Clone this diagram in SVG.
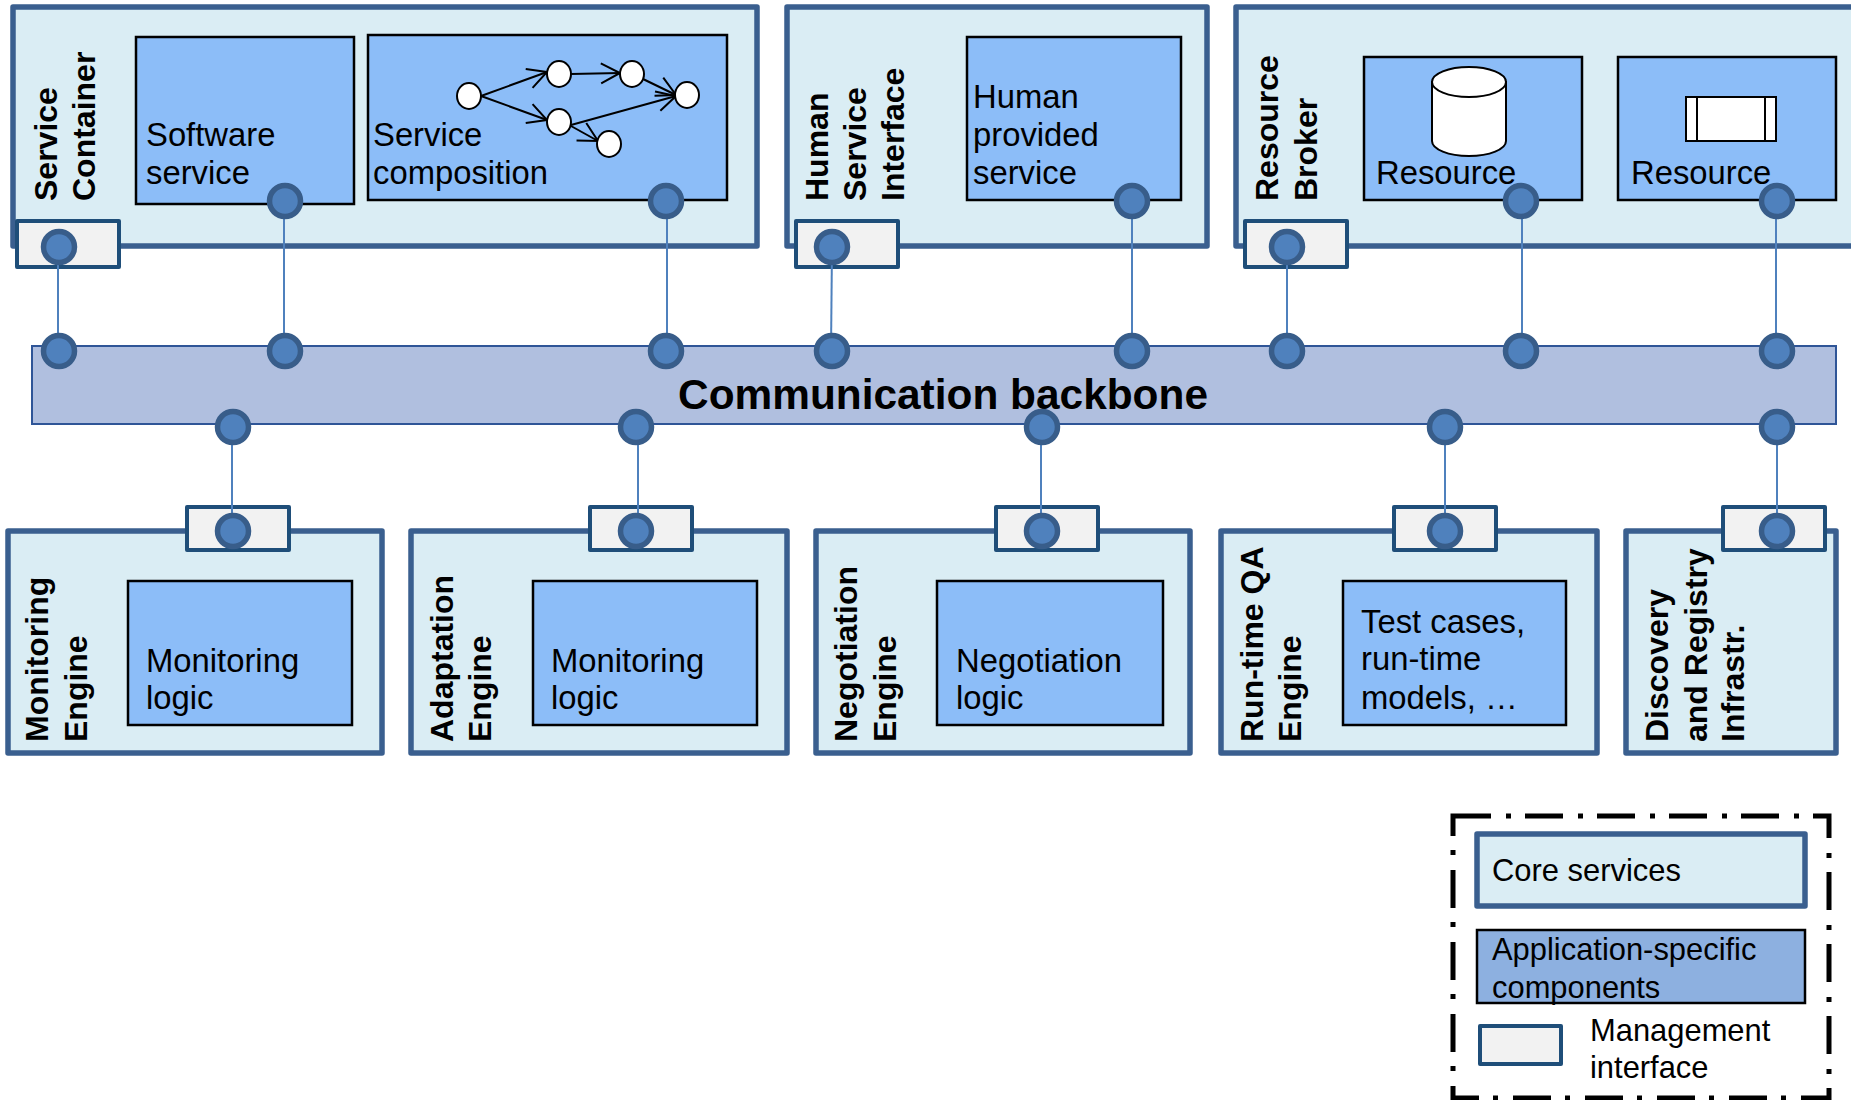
<svg xmlns="http://www.w3.org/2000/svg" width="1851" height="1100" viewBox="0 0 1851 1100">
<style>
text{font-family:"Liberation Sans",Arial,sans-serif;fill:#000}
.core{fill:#daedf4;stroke:#3a5f8f;stroke-width:5.5;stroke-linejoin:round}
.app{fill:#8cbdf8;stroke:#000;stroke-width:2.5}
.mgmt{fill:#f2f2f2;stroke:#1f4e79;stroke-width:4;stroke-linejoin:round}
.port{fill:#4f81bd;stroke:#385d8a;stroke-width:5.5}
.t{font-size:32.8px}
.h{font-size:32px;font-weight:bold}
.l{font-size:30.9px}
.w{fill:#fff;stroke:#000;stroke-width:2}
.e{fill:none;stroke:#000;stroke-width:2;marker-end:url(#open)}
.c{stroke:#4f81bd;stroke-width:2;fill:none}
</style>
<defs>
<marker id="open" markerUnits="userSpaceOnUse" markerWidth="28" markerHeight="28" refX="22" refY="14" orient="auto">
<path d="M3 4 L22 14 L3 24" fill="none" stroke="#000" stroke-width="2"/>
</marker>
</defs>
<g id="service-container">
<rect class="core" x="13" y="7" width="744" height="239"/>
<rect class="app" x="136" y="37" width="218" height="167"/>
<text class="t" x="146" y="146">Software</text><text class="t" x="146" y="184">service</text>
<rect class="app" x="368" y="35" width="359" height="165"/>
<text class="t" x="373" y="146">Service</text><text class="t" x="373" y="184">composition</text>
<line class="e" x1="481" y1="96" x2="547" y2="72"/>
<line class="e" x1="481" y1="96" x2="547" y2="120"/>
<line class="e" x1="571" y1="74" x2="620" y2="73"/>
<line class="e" x1="643" y1="79" x2="676" y2="95"/>
<line class="e" x1="571" y1="125" x2="676" y2="96"/>
<line class="e" x1="571" y1="126" x2="598" y2="141"/>
<ellipse class="w" cx="469" cy="96" rx="12" ry="13"/>
<ellipse class="w" cx="559" cy="74" rx="12" ry="13"/>
<ellipse class="w" cx="632" cy="74" rx="12" ry="13"/>
<ellipse class="w" cx="687" cy="95" rx="12" ry="13"/>
<ellipse class="w" cx="559" cy="122" rx="12" ry="13"/>
<ellipse class="w" cx="609" cy="144" rx="12" ry="13"/>
<rect class="mgmt" x="17" y="221" width="102" height="46"/>
<text class="h" transform="translate(57 201) rotate(-90)">Service</text>
<text class="h" transform="translate(95 201) rotate(-90)">Container</text>
</g>
<g id="human-service-interface">
<rect class="core" x="787" y="7" width="420" height="239"/>
<rect class="app" x="967" y="37" width="214" height="163"/>
<text class="t" x="973" y="108">Human</text><text class="t" x="973" y="146">provided</text><text class="t" x="973" y="184">service</text>
<rect class="mgmt" x="796" y="221" width="102" height="46"/>
<text class="h" transform="translate(828 201) rotate(-90)">Human</text>
<text class="h" transform="translate(866 201) rotate(-90)">Service</text>
<text class="h" transform="translate(904 201) rotate(-90)">Interface</text>
</g>
<g id="resource-broker">
<rect class="core" x="1236" y="7" width="630" height="239"/>
<rect class="app" x="1364" y="57" width="218" height="143"/>
<path class="w" d="M1432 82 V141 A37 15 0 0 0 1506 141 V82 Z"/>
<ellipse class="w" cx="1469" cy="82" rx="37" ry="15"/>
<text class="t" x="1376" y="184">Resource</text>
<rect class="app" x="1618" y="57" width="218" height="143"/>
<rect class="w" x="1686" y="97" width="90" height="44"/>
<line class="w" x1="1697" y1="97" x2="1697" y2="141"/><line class="w" x1="1765" y1="97" x2="1765" y2="141"/>
<text class="t" x="1631" y="184">Resource</text>
<rect class="mgmt" x="1245" y="221" width="102" height="46"/>
<text class="h" transform="translate(1278 201) rotate(-90)">Resource</text>
<text class="h" transform="translate(1317 201) rotate(-90)">Broker</text>
</g>
<g id="communication-backbone">
<rect x="32" y="346" width="1804" height="78" fill="#b0bfdf" stroke="#2f5597" stroke-width="2"/>
<text x="943" y="409" font-size="42.4" font-weight="bold" text-anchor="middle">Communication backbone</text>
</g>
<g id="monitoring-engine">
<rect class="core" x="8" y="531" width="374" height="222"/>
<rect class="app" x="128" y="581" width="224" height="144"/>
<text class="t" x="146" y="672">Monitoring</text><text class="t" x="146" y="709">logic</text>
<rect class="mgmt" x="187" y="507" width="102" height="43"/>
<text class="h" transform="translate(48 742) rotate(-90)">Monitoring</text>
<text class="h" transform="translate(87 742) rotate(-90)">Engine</text>
</g>
<g id="adaptation-engine">
<rect class="core" x="411" y="531" width="376" height="222"/>
<rect class="app" x="533" y="581" width="224" height="144"/>
<text class="t" x="551" y="672">Monitoring</text><text class="t" x="551" y="709">logic</text>
<rect class="mgmt" x="590" y="507" width="102" height="43"/>
<text class="h" transform="translate(453 742) rotate(-90)">Adaptation</text>
<text class="h" transform="translate(491 742) rotate(-90)">Engine</text>
</g>
<g id="negotiation-engine">
<rect class="core" x="816" y="531" width="374" height="222"/>
<rect class="app" x="937" y="581" width="226" height="144"/>
<text class="t" x="956" y="672">Negotiation</text><text class="t" x="956" y="709">logic</text>
<rect class="mgmt" x="996" y="507" width="102" height="43"/>
<text class="h" transform="translate(857 742) rotate(-90)">Negotiation</text>
<text class="h" transform="translate(896 742) rotate(-90)">Engine</text>
</g>
<g id="runtime-qa-engine">
<rect class="core" x="1221" y="531" width="376" height="222"/>
<rect class="app" x="1343" y="581" width="223" height="144"/>
<text class="t" x="1361" y="633">Test cases,</text><text class="t" x="1361" y="670">run-time</text><text class="t" x="1361" y="709">models, …</text>
<rect class="mgmt" x="1394" y="507" width="102" height="43"/>
<text class="h" transform="translate(1263 742) rotate(-90)">Run-time QA</text>
<text class="h" transform="translate(1301 742) rotate(-90)">Engine</text>
</g>
<g id="discovery-registry">
<rect class="core" x="1626" y="531" width="210" height="222"/>
<rect class="mgmt" x="1723" y="507" width="102" height="43"/>
<text class="h" transform="translate(1668 742) rotate(-90)">Discovery</text>
<text class="h" transform="translate(1707 742) rotate(-90)">and Registry</text>
<text class="h" transform="translate(1744 742) rotate(-90)">Infrastr.</text>
</g>
<g id="connectors">
<line class="c" x1="58" y1="247" x2="58" y2="351"/>
<line class="c" x1="284" y1="201" x2="284" y2="351"/>
<line class="c" x1="667" y1="201" x2="667" y2="351"/>
<line class="c" x1="832" y1="247" x2="831" y2="351"/>
<line class="c" x1="1132" y1="201" x2="1132" y2="351"/>
<line class="c" x1="1287" y1="247" x2="1287" y2="351"/>
<line class="c" x1="1522" y1="201" x2="1522" y2="351"/>
<line class="c" x1="1776" y1="201" x2="1776" y2="351"/>
<line class="c" x1="232" y1="427" x2="232" y2="531"/>
<line class="c" x1="638" y1="427" x2="638" y2="531"/>
<line class="c" x1="1041" y1="427" x2="1041" y2="531"/>
<line class="c" x1="1445" y1="427" x2="1445" y2="531"/>
<line class="c" x1="1777" y1="427" x2="1777" y2="531"/>
</g>
<g id="ports">
<circle class="port" cx="59" cy="247" r="15.5"/><circle class="port" cx="285" cy="201" r="15.5"/><circle class="port" cx="666" cy="201" r="15.5"/>
<circle class="port" cx="832" cy="247" r="15.5"/><circle class="port" cx="1132" cy="201" r="15.5"/>
<circle class="port" cx="1287" cy="247" r="15.5"/><circle class="port" cx="1521" cy="201" r="15.5"/><circle class="port" cx="1777" cy="201" r="15.5"/>
<circle class="port" cx="59" cy="351" r="15.5"/><circle class="port" cx="285" cy="351" r="15.5"/><circle class="port" cx="666" cy="351" r="15.5"/><circle class="port" cx="832" cy="351" r="15.5"/><circle class="port" cx="1132" cy="351" r="15.5"/><circle class="port" cx="1287" cy="351" r="15.5"/><circle class="port" cx="1521" cy="351" r="15.5"/><circle class="port" cx="1777" cy="351" r="15.5"/>
<circle class="port" cx="233" cy="427" r="15.5"/><circle class="port" cx="636" cy="427" r="15.5"/><circle class="port" cx="1042" cy="427" r="15.5"/><circle class="port" cx="1445" cy="427" r="15.5"/><circle class="port" cx="1777" cy="427" r="15.5"/>
<circle class="port" cx="233" cy="531" r="15.5"/><circle class="port" cx="636" cy="531" r="15.5"/><circle class="port" cx="1042" cy="531" r="15.5"/><circle class="port" cx="1445" cy="531" r="15.5"/><circle class="port" cx="1777" cy="531" r="15.5"/>
</g>
<g id="legend">
<rect x="1453" y="816" width="376" height="282" fill="none" stroke="#000" stroke-width="5" stroke-dasharray="38 15 5 14"/>
<rect class="core" x="1477" y="834" width="328" height="72"/>
<text class="l" x="1492" y="881">Core services</text>
<rect x="1477" y="930" width="328" height="73" fill="#8db0e0" stroke="#000" stroke-width="2.5"/>
<text class="l" x="1492" y="960">Application-specific</text><text class="l" x="1492" y="998">components</text>
<rect class="mgmt" x="1480" y="1026" width="81" height="38"/>
<text class="l" x="1590" y="1041">Management</text><text class="l" x="1590" y="1078">interface</text>
</g>
</svg>
